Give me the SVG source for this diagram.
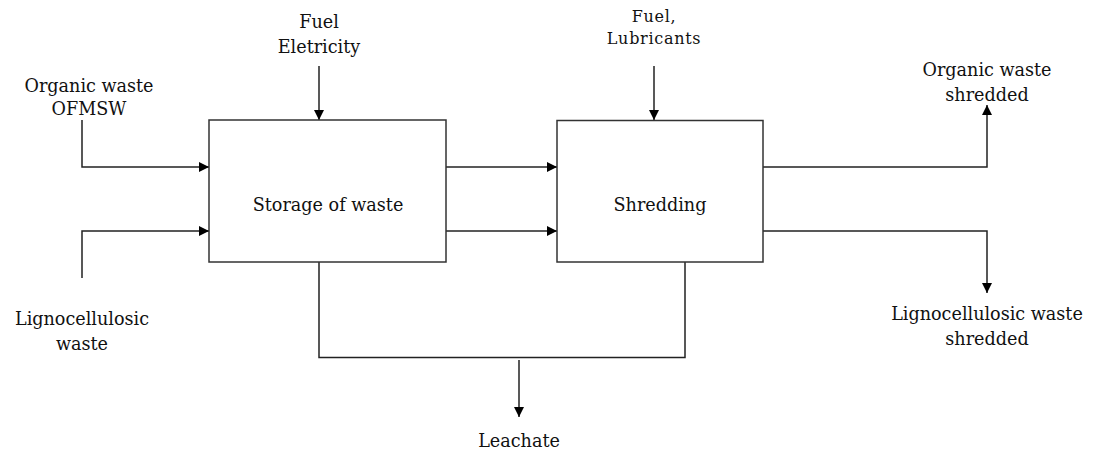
<svg xmlns="http://www.w3.org/2000/svg" width="1096" height="452" viewBox="0 0 1096 452">
  <style>
    .box { fill: #fff; stroke: #333; stroke-width: 1.5; }
    .ln { fill: none; stroke: #222; stroke-width: 1.5; }
    .t { font-family: "DejaVu Serif", "Liberation Serif", serif; font-size: 17.6px; fill: #111; text-anchor: middle; }
    .ts { font-family: "DejaVu Serif", "Liberation Serif", serif; font-size: 16px; letter-spacing: 0.7px; fill: #111; text-anchor: middle; }
  </style>
  <defs>
    <marker id="arr" viewBox="0 0 10 10" refX="10" refY="5" markerWidth="10" markerHeight="10" markerUnits="userSpaceOnUse" orient="auto">
      <path d="M0,0 L10,5 L0,10 Z" fill="#000"/>
    </marker>
  </defs>
  <rect width="1096" height="452" fill="#fff"/>

  <g id="connectors">
    <path class="ln" d="M82,120 V167 H209" marker-end="url(#arr)"/>
    <path class="ln" d="M82,278 V231 H209" marker-end="url(#arr)"/>
    <path class="ln" d="M319,66 V120" marker-end="url(#arr)"/>
    <path class="ln" d="M446,167 H557" marker-end="url(#arr)"/>
    <path class="ln" d="M446,231 H557" marker-end="url(#arr)"/>
    <path class="ln" d="M654,66 V120" marker-end="url(#arr)"/>
    <path class="ln" d="M763,167 H987 V105" marker-end="url(#arr)"/>
    <path class="ln" d="M763,231 H987 V293" marker-end="url(#arr)"/>
    <path class="ln" d="M319,262 V357.5 H685 V262"/>
    <path class="ln" d="M519,360 V417" marker-end="url(#arr)"/>
  </g>

  <g id="storage">
    <rect class="box" x="209" y="120" width="237" height="142"/>
    <text class="t" x="328" y="211">Storage of waste</text>
  </g>
  <g id="shredding">
    <rect class="box" x="557" y="120.5" width="206" height="141.5"/>
    <text class="t" x="660" y="211">Shredding</text>
  </g>

  <g id="in-fuel-electricity">
    <text class="t" x="319" y="28">Fuel</text>
    <text class="t" x="319" y="53">Eletricity</text>
  </g>
  <g id="in-fuel-lubricants">
    <text class="ts" x="654" y="22">Fuel,</text>
    <text class="ts" x="654" y="44">Lubricants</text>
  </g>
  <g id="in-organic">
    <text class="t" x="89" y="92">Organic waste</text>
    <text class="t" x="89" y="115">OFMSW</text>
  </g>
  <g id="in-ligno">
    <text class="t" x="82" y="325">Lignocellulosic</text>
    <text class="t" x="82" y="350">waste</text>
  </g>
  <g id="out-organic">
    <text class="t" x="987" y="76">Organic waste</text>
    <text class="t" x="987" y="101">shredded</text>
  </g>
  <g id="out-ligno">
    <text class="t" x="987" y="320">Lignocellulosic waste</text>
    <text class="t" x="987" y="345">shredded</text>
  </g>
  <g id="out-leachate">
    <text class="t" x="519" y="447">Leachate</text>
  </g>
</svg>
